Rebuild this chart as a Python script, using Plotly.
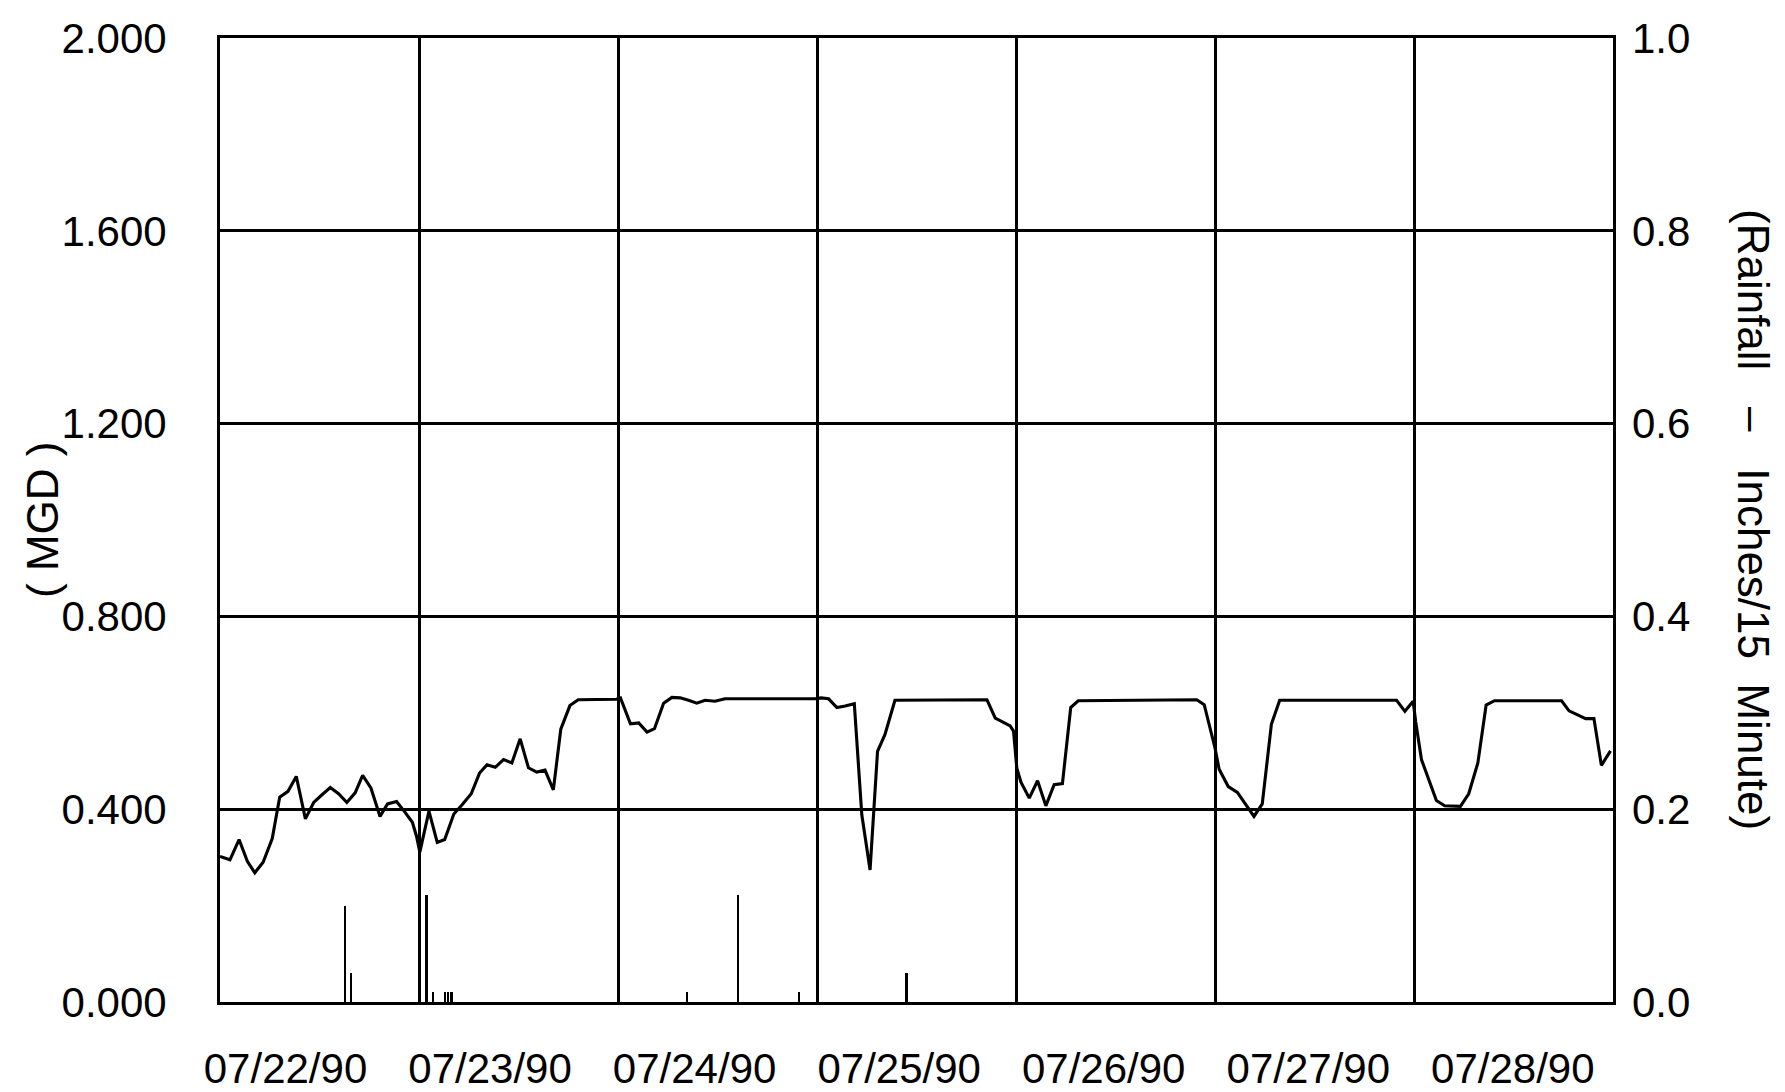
import plotly.graph_objects as go

# ---- data ----
day_labels = ["07/22/90", "07/23/90", "07/24/90", "07/25/90",
              "07/26/90", "07/27/90", "07/28/90"]

# flow, hours from 07/22/90 00:00, MGD
flow_hours = [0.0, 1.2, 2.3, 3.3, 4.2, 5.2, 6.3, 7.2, 8.2, 9.2, 10.3, 11.3, 12.3,
              13.3, 14.3, 15.3, 16.3, 17.2, 18.2, 19.3, 20.2, 21.3, 22.3, 23.2,
              23.7, 24.1, 25.2, 26.2, 27.1, 28.2, 29.2, 30.3, 31.3, 32.2, 33.2,
              34.2, 35.2, 36.2, 37.2, 38.2, 39.2, 40.2, 41.1, 42.2, 43.2, 47.8,
              48.3, 49.5, 50.5, 51.5, 52.4, 53.5, 54.5, 55.5, 56.5, 57.5, 58.5,
              59.7, 60.9, 71.8, 72.5, 73.4, 74.4, 75.4, 76.5, 77.4, 78.4, 79.3,
              80.2, 81.4, 92.5, 93.5, 95.3, 95.7, 96.1, 96.6, 97.6, 98.6, 99.6,
              100.6, 101.6, 102.6, 103.5, 117.8, 118.7, 120.0, 120.5, 121.6,
              122.7, 124.7, 125.7, 126.8, 127.8, 141.9, 142.9, 143.9, 144.2,
              144.9, 146.7, 147.7, 149.6, 150.6, 151.7, 152.7, 153.7, 161.8,
              162.7, 164.7, 165.7, 166.6, 167.7]
flow_mgd = [0.302, 0.295, 0.337, 0.292, 0.268, 0.290, 0.339, 0.425, 0.437, 0.468,
            0.380, 0.414, 0.430, 0.445, 0.432, 0.414, 0.434, 0.470, 0.444, 0.385,
            0.411, 0.416, 0.394, 0.373, 0.344, 0.311, 0.396, 0.331, 0.337, 0.390,
            0.409, 0.432, 0.475, 0.492, 0.487, 0.503, 0.496, 0.546, 0.486, 0.477,
            0.481, 0.440, 0.566, 0.615, 0.627, 0.628,
            0.631, 0.577, 0.579, 0.560, 0.567, 0.620, 0.632, 0.631, 0.626, 0.620,
            0.626, 0.624, 0.629, 0.629, 0.631, 0.629, 0.611, 0.614, 0.619, 0.389,
            0.274, 0.520, 0.555, 0.626, 0.627, 0.589, 0.573, 0.562, 0.485, 0.456,
            0.423, 0.459, 0.407, 0.451, 0.453, 0.611, 0.625, 0.627, 0.617, 0.527,
            0.483, 0.447, 0.435, 0.385, 0.411, 0.576, 0.626, 0.626, 0.603, 0.624,
            0.582, 0.503, 0.418, 0.407, 0.406, 0.432, 0.496, 0.616, 0.625, 0.625,
            0.604, 0.588, 0.588, 0.491, 0.521]

# rainfall, inches per 15 minutes
rain_hours = [15.1, 15.8, 24.9, 25.7, 27.1, 27.5, 27.9, 56.3, 62.5, 69.8, 82.8]
rain_in = [0.100, 0.030, 0.111, 0.010, 0.010, 0.010, 0.010, 0.010, 0.111, 0.010, 0.030]

flow_ticks = [0.0, 0.4, 0.8, 1.2, 1.6, 2.0]
rain_ticks = [0.0, 0.2, 0.4, 0.6, 0.8, 1.0]

# ---- layout helpers ----
n_days = len(day_labels)
total_hours = 24 * n_days
day_bounds = [24 * i for i in range(n_days + 1)]
label_pos = [7.9 + 24.67 * i for i in range(n_days)]

W, H = 1785, 1092
ML, MR, MT, MB = 212, 180, 30, 98
PW = W - ML - MR

FONT = "Liberation Sans, Arial, sans-serif"
BLACK = "#000000"

fig = go.Figure()
fig.add_trace(go.Bar(x=rain_hours, y=rain_in, width=0.28, yaxis="y2",
                     marker=dict(color=BLACK, line=dict(width=0)),
                     showlegend=False, hoverinfo="x+y"))
fig.add_trace(go.Scatter(x=flow_hours, y=flow_mgd, mode="lines",
                         line=dict(color=BLACK, width=3.1),
                         showlegend=False))

fig.update_layout(
    width=W, height=H,
    margin=dict(l=ML, r=MR, t=MT, b=MB, autoexpand=False),
    paper_bgcolor="white", plot_bgcolor="white",
    font=dict(family=FONT, size=42, color=BLACK),
    bargap=0,
    xaxis=dict(range=[0, total_hours], tickmode="array",
               tickvals=label_pos, ticktext=day_labels, automargin=False,
               showgrid=False, zeroline=False, ticks="",
               showline=True, mirror=True, linecolor=BLACK, linewidth=2.8,
               ticklabelstandoff=28,
               tickfont=dict(family=FONT, size=42, color=BLACK),
               minor=dict(tickmode="array", tickvals=day_bounds, showgrid=True,
                          gridcolor=BLACK, gridwidth=2.5, ticks="")),
    yaxis=dict(range=[0, 2.0], tickmode="array", tickvals=flow_ticks,
               tickformat=".3f", showgrid=True, gridcolor=BLACK, gridwidth=2.5,
               zeroline=False, ticks="", automargin=False,
               showline=True, mirror=True, linecolor=BLACK, linewidth=2.8,
               ticklabelstandoff=42,
               tickfont=dict(family=FONT, size=42, color=BLACK)),
    yaxis2=dict(range=[0, 1.0], tickmode="array", tickvals=rain_ticks,
                tickformat=".1f", overlaying="y", side="right", automargin=False,
                showgrid=False, zeroline=False, ticks="", showline=False,
                ticklabelstandoff=18,
                tickfont=dict(family=FONT, size=42, color=BLACK)),
    annotations=[
        dict(text="( MGD )", xref="paper", yref="paper",
             x=(34 - ML) / PW, y=0.5, textangle=-90, showarrow=False,
             xanchor="center", yanchor="middle",
             font=dict(family=FONT, size=44, color=BLACK)),
        dict(text="(Rainfall   \u2013   Inches/15  Minute)", xref="paper", yref="paper",
             x=(1746 - ML) / PW, y=0.5, textangle=90, showarrow=False,
             xanchor="center", yanchor="middle",
             font=dict(family=FONT, size=44, color=BLACK)),
    ],
)

fig.write_html("out.html")
